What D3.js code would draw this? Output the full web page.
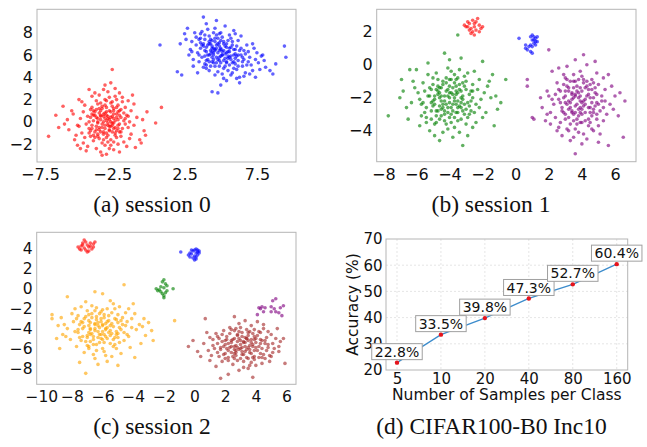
<!DOCTYPE html>
<html>
<head>
<meta charset="utf-8">
<script src="https://cdn.jsdelivr.net/npm/d3@7"></script>
<style>
  body { margin: 0; background: #fff; }
  svg { display: block; }
</style>
</head>
<body>
<div id="chart"></div>
<script>
// ---------- data (x, y pairs, flat) ----------

// (a) session 0
const redA = [
  -2.9,0.1, -3.4,0.8, -2.1,-0.6, -3.8,-1.2, -2.5,1.4, -1.6,0.3, -4.2,0.5, -3.0,-2.1, -2.2,2.0, -3.6,1.9,
  -1.2,-1.1, -4.9,-0.3, -2.7,-0.4, -3.3,0.2, -2.4,0.7, -3.1,-0.9, -1.9,1.1, -4.0,-0.8, -2.6,-1.6, -3.5,-0.1,
  -5.3,1.0, -0.8,0.4, -2.8,2.7, -3.9,2.3, -1.5,-2.2, -4.5,-1.9, -2.0,-0.2, -3.2,1.2, -2.3,-1.0, -3.7,0.9,
  -6.2,-0.5, -0.3,-0.8, -2.9,-2.9, -3.0,3.3, -1.8,1.8, -4.4,1.5, -2.6,0.0, -3.4,-1.5, -2.1,0.9, -3.8,0.1,
  -5.0,-1.2, -1.0,1.6, -2.4,-2.5, -4.1,2.9, -1.4,-0.5, -3.6,-2.4, -2.7,1.0, -3.1,0.5, -2.2,-1.4, -4.7,0.3,
  -6.9,-1.3, 0.5,-0.1, -2.5,4.7, -3.3,-2.7, -1.1,2.4, -4.8,2.0, -2.0,0.6, -3.5,1.6, -2.8,-1.2, -3.9,-0.6,
  -5.6,0.2, -0.6,-1.6, -2.3,3.0, -4.3,-2.6, -1.7,-1.8, -3.0,-0.3, -2.6,1.7, -3.7,-0.9, -2.4,0.3, -4.6,-1.0,
  -5.9,1.4, -0.1,0.9, -3.2,-1.9, -1.9,-0.9, -4.0,1.1, -2.7,-0.7, -3.4,2.4, -1.3,0.0, -4.9,-2.1, -3.0,1.5,
  -2.1,-2.0, -3.6,0.4, -2.9,0.9, -1.6,1.3, -4.3,-0.2, -2.5,-0.9, -3.2,-0.5, -2.0,2.6, -3.8,-1.7, -5.2,0.7,
  -1.0,-0.3, -2.7,2.2, -3.5,-1.1, -4.1,0.0, -1.9,-1.3, -2.4,1.2, -3.1,-1.6, -4.6,1.8, -0.9,-2.3, -2.8,-0.1,
  -3.3,0.6, -2.2,0.4, -3.9,1.3, -1.5,0.6, -4.4,-1.4, -2.6,-2.1, -3.0,2.0, -2.3,-0.5, -3.6,-0.4, -1.2,1.0,
  -5.5,-0.7, -0.4,0.2, -2.9,-1.4, -3.7,2.6, -2.0,-2.7, -4.2,-2.2, -1.7,0.1, -3.4,-0.7, -2.5,0.5, -3.1,2.9,
  0.9,1.3, -6.4,0.6, -2.6,3.5, -3.2,-3.0, -1.3,-1.5, -4.0,-1.3, -2.8,0.3, -3.5,0.0, -2.1,1.5, -4.8,-0.4,
  -0.5,-1.9, -1.8,2.2, -4.5,0.9, -2.4,-1.8, -3.3,1.7, -5.1,-1.6, -1.4,1.9, -2.7,-2.4, -3.8,0.6, -2.2,-0.8,
  -0.2,-1.2, -5.8,-0.2, -2.9,1.9, -3.1,0.0, -1.9,0.4, -4.1,-0.6, -2.5,-0.3, -3.6,1.1, -2.3,2.3, -4.7,-2.4,
  -2.8,0.5, -3.2,-0.2, -2.5,-0.1, -3.0,0.8, -2.3,0.1, -3.5,0.3, -2.7,-0.8, -3.3,1.0, -2.1,-0.3, -3.9,-0.3,
  -2.6,0.9, -3.1,-1.1, -2.0,1.0, -3.7,0.6, -2.4,-0.6, -3.4,-0.5, -2.9,1.3, -1.8,-0.6, -4.0,0.4, -2.2,0.7,
  -3.0,-0.6, -2.6,0.4, -3.6,-0.7, -2.8,-0.3, -1.7,0.8, -3.3,0.5, -2.4,1.0, -3.8,1.0, -2.9,-1.0, -2.1,0.2,
  -3.2,1.4, -2.7,0.2, -3.5,-1.3, -2.3,-1.2, -4.1,-1.0, -1.6,-0.2, -3.0,0.3, -2.5,1.8, -3.4,1.2, -2.0,-0.9,
  -2.8,-1.8, -3.9,0.7, -2.2,1.3, -3.1,0.7, -2.6,-0.4, -1.4,0.5, -3.7,-1.4, -2.4,-0.1, -3.3,-0.9, -2.9,0.6
];
const blueA = [
  4.8,6.2, 5.3,5.7, 4.1,6.9, 5.9,5.4, 3.6,7.1, 4.5,5.3, 6.4,6.0, 5.0,7.3, 3.9,5.9, 5.6,6.6,
  4.3,6.4, 6.8,5.1, 3.3,7.6, 5.2,4.8, 4.7,7.8, 6.1,6.8, 2.9,6.5, 5.5,5.9, 4.0,5.1, 7.2,4.6,
  4.9,6.8, 3.7,8.1, 6.0,5.2, 5.4,7.0, 4.2,4.6, 6.6,5.6, 3.4,6.2, 5.1,6.0, 7.6,5.3, 4.6,8.4,
  2.6,7.4, 5.8,4.4, 4.4,7.3, 6.9,6.3, 3.8,4.9, 5.2,6.4, 8.1,4.9, 4.0,8.8, 6.3,4.0, 3.1,5.6,
  5.7,7.5, 4.9,5.5, 2.2,7.0, 7.0,5.8, 4.5,6.0, 5.4,3.7, 3.6,6.6, 6.2,7.3, 8.6,4.3, 4.7,9.1,
  0.8,6.9, 9.4,6.8, 9.5,5.8, 4.4,2.7, 4.8,2.6, 5.0,3.3, 2.0,4.5, 2.3,4.2, 5.9,8.2, 7.4,4.0,
  4.1,5.6, 5.5,6.3, 3.9,7.4, 6.5,5.0, 4.6,4.2, 5.0,8.0, 7.8,5.9, 3.2,8.0, 6.0,6.1, 4.3,5.0,
  5.6,5.1, 4.8,7.0, 6.7,4.4, 3.5,5.4, 5.3,8.6, 7.3,6.6, 2.8,6.0, 6.1,4.7, 4.2,7.7, 5.8,6.9,
  8.0,5.5, 3.0,7.2, 5.1,4.3, 4.4,6.6, 6.4,7.7, 3.7,5.8, 5.4,5.4, 7.1,5.1, 4.6,7.5, 6.3,3.5,
  2.5,7.9, 5.9,6.0, 4.0,6.3, 6.8,6.9, 5.2,3.9, 3.3,6.9, 7.7,4.7, 4.9,5.0, 5.6,7.8, 3.8,7.0,
  6.2,5.5, 4.5,8.0, 7.5,6.2, 3.4,4.4, 5.0,6.5, 6.6,4.1, 4.2,6.0, 5.7,5.6, 8.4,4.6, 2.7,8.4,
  4.7,5.8, 6.0,6.5, 3.6,7.9, 5.3,5.0, 7.0,4.3, 4.1,8.3, 6.9,5.4, 5.5,4.6, 3.0,6.3, 6.4,6.6,
  4.8,4.5, 5.8,7.2, 4.3,7.0, 7.9,6.0, 3.9,5.2, 5.1,7.6, 6.5,5.8, 4.6,6.4, 5.9,4.8, 3.5,7.4,
  5.4,6.7, 6.1,3.9, 4.0,4.8, 7.2,7.0, 4.9,7.9, 3.1,5.0, 6.7,6.1, 5.7,4.2, 4.4,5.4, 8.8,5.2,
  5.2,7.2, 4.7,6.6, 6.2,5.0, 3.8,6.8, 5.6,5.8, 7.4,5.6, 4.5,5.6, 6.0,7.9, 5.0,5.3, 4.2,7.2,
  3.8,9.4,
  4.6,6.5, 5.1,6.0, 4.3,6.1, 5.4,6.2, 4.9,5.8, 4.0,6.7, 5.7,5.9, 4.7,6.9, 5.2,5.5, 4.4,5.8,
  5.0,6.6, 3.9,6.4, 5.6,6.3, 4.5,6.2, 6.0,5.7, 4.2,7.0, 5.3,6.8, 4.8,5.6, 3.7,6.9, 5.8,5.3,
  4.6,7.2, 5.5,5.7, 4.1,6.0, 6.2,6.0, 4.9,6.4, 3.5,6.0, 5.2,7.0, 4.4,6.8, 5.9,6.5, 4.7,5.3,
  5.1,6.3, 4.3,7.4, 6.5,5.4, 4.0,5.5, 5.4,5.3, 4.8,7.5, 3.6,7.5, 5.7,6.7, 4.5,6.6, 6.3,6.4,
  5.0,5.9, 4.2,5.4, 5.5,7.3, 3.9,7.8, 6.1,5.9, 4.6,5.0, 5.3,6.1, 4.9,7.1, 6.6,6.4, 4.4,6.3
];

// (b) session 1
const redB = [
  -3.1,2.4, -2.9,2.3, -2.8,2.5, -2.7,2.2, -2.5,2.3, -2.4,2.1, -2.6,2.7, -2.3,2.8, -2.2,2.4, -2.1,2.2,
  -2.7,1.9, -2.5,1.8, -2.6,2.0, -2.4,2.6, -3.0,2.3, -2.8,2.1, -2.2,2.0, -2.5,2.5, -2.0,2.3, -2.9,2.6
];
const blueB = [
  0.2,1.6, 0.9,1.7, 1.0,1.8, 1.1,1.7, 1.2,1.6, 1.3,1.7, 1.0,1.5, 1.2,1.4, 1.1,1.3, 0.9,1.2,
  0.8,1.1, 0.6,1.0, 0.7,0.9, 1.0,1.1, 1.2,1.2, 1.0,0.7, 0.9,0.8, 0.6,1.2, 1.1,1.5, 1.3,1.4
];
const greenB = [
  -4.0,-2.0, -4.6,-1.4, -3.3,-2.6, -5.1,-2.3, -3.7,-1.1, -2.8,-1.8, -4.3,-3.0, -5.5,-1.6, -3.1,-0.7, -4.8,-2.8,
  -2.4,-2.4, -4.1,-1.5, -3.5,-3.4, -5.8,-2.1, -3.9,-0.4, -2.6,-1.2, -4.5,-2.2, -6.2,-1.0, -3.2,-2.1, -4.9,-3.6,
  -1.9,-1.7, -4.2,-0.8, -3.6,-2.9, -5.3,-0.6, -2.9,-3.2, -4.7,-1.8, -6.6,-2.6, -3.4,-1.5, -4.4,-4.1, -2.2,-0.9,
  -5.0,-1.2, -3.8,-2.4, -1.5,-2.0, -4.0,0.3, -5.7,-3.1, -3.0,-1.0, -4.6,-3.3, -2.5,-2.9, -6.0,-0.3, -3.7,-3.8,
  -7.7,-3.1, -0.6,-0.9, -3.2,-4.9, -4.3,0.7, -6.9,-0.9, -1.3,-3.7, -5.2,-4.0, -2.0,0.2, -7.0,-2.0, -1.1,-2.7,
  -4.1,-2.6, -3.3,-1.6, -4.9,-1.9, -3.6,-0.9, -2.7,-2.2, -5.4,-2.6, -4.4,-1.2, -3.0,-2.7, -4.8,-0.5, -2.3,-1.5,
  -5.9,-1.7, -3.5,-2.2, -4.2,-3.6, -1.8,-2.9, -5.1,-3.3, -3.9,-1.7, -2.6,-3.8, -4.7,-0.9, -3.1,-3.0, -6.3,-2.3,
  -4.5,-2.7, -3.4,-0.3, -5.6,-1.1, -2.1,-2.1, -4.0,-3.2, -3.7,-2.0, -5.0,-2.5, -2.9,-0.5, -4.3,-1.9, -6.5,-3.3,
  -3.8,-4.4, -1.7,-1.3, -5.3,0.1, -4.6,-4.6, -2.4,-3.5, -3.3,0.4, -5.8,-3.7, -1.2,-1.9, -4.9,-2.1, -3.6,-1.3,
  -4.1,-0.2, -2.8,-2.5, -5.5,-2.9, -3.2,-1.9, -4.4,-2.4, -2.0,-3.2, -6.1,-1.4, -3.9,-3.0, -4.7,-1.6, -2.5,-0.4,
  -3.0,-3.6, -5.2,-1.9, -4.2,-1.1, -3.5,-2.6, -1.6,-1.0, -4.8,-3.1, -2.7,-1.6, -5.7,-2.4, -3.7,-0.6, -4.5,-1.4,
  -6.8,-1.6, -0.9,-2.3, -3.4,-4.1, -4.0,-1.7, -2.2,-2.6, -5.0,-0.8, -3.1,-1.3, -4.6,-2.0, -3.8,-2.8, -2.9,-4.3,
  -5.4,-3.5, -1.4,-0.6, -4.3,-2.8, -3.6,-1.8, -6.4,-0.3, -2.6,-2.0, -4.9,-4.3, -3.3,-2.3, -4.1,-3.9, -5.1,-1.5,
  -3.5,1.8,
  -3.8,-1.8, -4.3,-2.2, -3.5,-1.7, -4.6,-2.5, -3.9,-2.6, -4.2,-1.6, -3.3,-2.0, -4.8,-1.5, -3.6,-2.4, -4.5,-1.9,
  -4.1,-2.9, -3.4,-1.2, -5.0,-2.2, -3.7,-3.2, -4.4,-1.0, -2.9,-2.3, -4.7,-2.8, -3.2,-2.8, -4.0,-1.3, -5.3,-1.9,
  -3.5,-2.9, -4.2,-2.4, -3.0,-1.5, -4.9,-2.4, -3.8,-1.4, -4.5,-3.1, -3.3,-3.3, -4.0,-2.3, -5.1,-2.8, -3.6,-1.6,
  -2.7,-2.8, -4.3,-3.4, -3.9,-0.9, -4.7,-1.3, -3.1,-2.4, -5.6,-2.3, -4.1,-1.9, -3.4,-2.5, -4.8,-3.5, -2.6,-1.6,
  -3.7,-2.2, -4.4,-2.6, -5.2,-1.4, -3.2,-1.1, -4.6,-1.7, -3.9,-3.5, -2.8,-3.0, -4.0,-0.9, -5.4,-3.2, -3.5,-0.8
];
const purpleB = [
  3.8,-2.0, 3.2,-1.4, 4.4,-2.6, 3.5,-3.0, 4.1,-1.1, 2.7,-2.3, 4.8,-1.7, 3.0,-0.8, 4.2,-3.4, 3.6,-2.5,
  2.4,-1.8, 5.1,-2.8, 3.9,-0.4, 3.3,-3.6, 4.6,-0.9, 2.1,-2.9, 5.4,-1.5, 3.7,-1.6, 4.0,-2.3, 2.9,-1.2,
  4.9,-3.3, 3.4,-2.1, 2.6,-3.8, 4.5,-2.0, 3.1,-0.1, 5.7,-2.4, 3.8,-4.1, 1.9,-1.6, 4.3,0.0, 3.5,-1.0,
  2.2,-0.4, 5.3,-0.8, 4.7,-4.0, 2.8,-4.3, 3.9,-2.9, 6.0,-1.9, 1.6,-2.6, 4.1,0.6, 3.0,-3.3, 5.0,-1.2,
  0.7,-0.9, 0.7,-1.3, 1.1,-3.3, 1.0,-3.2, 1.8,-3.4, 2.0,0.9, 6.6,-2.2, 6.5,-4.4, 3.6,-5.4, 5.6,-4.9,
  3.7,-1.3, 4.4,-1.8, 3.2,-2.7, 4.0,-3.0, 2.9,-2.0, 4.8,-2.5, 3.4,-1.7, 4.6,-3.1, 3.1,-2.4, 5.2,-1.9,
  2.5,-1.1, 4.2,-1.4, 3.6,-3.9, 5.5,-3.0, 2.3,-2.4, 4.0,-0.7, 3.3,-4.6, 4.9,-0.5, 2.7,-3.5, 5.9,-2.7,
  3.8,-2.7, 3.0,-1.6, 4.5,-2.9, 2.0,-1.9, 5.0,-3.7, 3.5,-0.6, 4.3,-4.5, 2.6,-0.2, 5.8,-1.3, 3.9,-1.9,
  1.5,-2.0, 4.7,-1.1, 3.2,-4.0, 4.1,-2.5, 2.8,-2.8, 5.4,-2.2, 3.6,0.3, 4.4,-3.7, 3.0,-3.0, 6.2,-3.1,
  2.4,-3.2, 4.8,0.2, 3.7,-3.3, 4.2,-2.1, 3.3,-1.0, 5.1,-4.2, 2.2,-2.1, 4.0,-4.8, 3.4,-2.9, 5.6,-0.6,
  3.9,-3.5, 2.9,-0.6, 4.6,-1.5, 3.1,-3.9, 5.3,-2.6, 3.6,-1.9, 1.9,-3.0, 4.3,-1.0, 2.5,-4.0, 4.9,-2.3,
  3.8,-0.9, 5.0,-4.7, 3.2,-2.2, 4.5,-3.5, 2.6,-1.5, 4.1,-4.2, 6.3,-1.7, 3.5,-4.4, 2.1,-3.6, 4.7,-2.7,
  3.6,-1.8, 4.1,-2.2, 3.3,-2.3, 4.4,-1.5, 3.9,-2.6, 3.5,-1.4, 4.6,-2.3, 3.0,-1.9, 4.2,-2.9, 3.7,-2.4,
  4.9,-1.8, 3.4,-2.8, 4.0,-1.6, 2.8,-2.6, 4.5,-1.2, 3.8,-3.1, 3.1,-1.3, 4.7,-2.9, 3.5,-2.0, 4.3,-1.9,
  3.2,-3.2, 4.0,-2.7, 5.0,-2.4, 3.6,-1.0, 4.4,-3.3, 2.7,-1.6, 3.9,-1.4, 4.8,-1.4, 3.3,-2.6, 4.2,-2.4,
  3.7,-3.6, 4.5,-2.6, 2.9,-2.9, 4.1,-0.9, 3.4,-1.8, 5.2,-2.2, 3.8,-1.7, 4.6,-3.9, 3.0,-2.3, 4.3,-1.3,
  3.6,-2.9, 4.9,-3.0, 3.2,-1.6, 4.0,-3.5, 3.5,-3.4, 4.7,-2.0, 2.6,-2.1, 3.9,-2.2, 5.3,-3.4, 3.1,-0.9
];

// (c) session 2
const redC = [
  -7.6,4.2, -7.5,4.0, -7.4,4.3, -7.3,4.6, -7.2,4.9, -7.2,4.1, -7.1,3.9, -7.0,4.4, -7.0,3.7, -6.9,4.2,
  -6.8,4.6, -6.7,4.0, -6.6,4.5, -6.5,4.7, -6.9,3.8, -7.3,4.4, -6.8,4.3, -7.1,4.7, -6.6,4.2, -7.4,3.9
];
const blueC = [
  -0.9,3.7, -0.4,3.4, -0.3,3.2, -0.2,3.5, -0.1,3.8, 0.0,3.9, 0.1,4.0, 0.2,3.9, 0.3,3.8, 0.1,3.6,
  0.0,3.3, -0.1,3.1, 0.0,2.9, 0.1,3.0, 0.2,3.4, -0.2,3.9, 0.3,3.6, -0.3,3.6, 0.1,3.2, 0.2,3.7
];
const greenC = [
  -2.0,0.9, -2.1,0.7, -1.9,0.5, -2.2,0.2, -2.0,0.1, -2.3,-0.1, -2.4,-0.2, -1.8,-0.2, -1.9,-0.4, -2.1,-0.5,
  -2.0,-0.7, -2.0,-0.9, -1.4,0.0, -2.5,0.0, -1.8,0.3, -2.2,-0.3
];
const purpleC = [
  4.1,-2.6, 4.3,-2.0, 4.4,-1.8, 4.6,-1.9, 4.5,-2.3, 4.2,-1.9, 5.0,-1.8, 5.1,-1.2, 5.2,-2.0, 5.3,-1.0,
  5.3,-2.3, 5.5,-2.4, 5.6,-1.9, 5.8,-1.7, 5.7,-2.7, 5.0,-2.3
];
const orangeC = [
  -6.2,-3.9, -5.6,-3.2, -6.8,-4.6, -5.1,-4.3, -7.2,-3.0, -6.0,-5.1, -5.4,-2.4, -6.9,-3.7, -4.7,-3.6, -6.4,-2.8,
  -7.6,-4.4, -5.8,-4.0, -4.3,-4.8, -6.6,-5.6, -5.2,-2.0, -7.9,-3.3, -6.1,-3.0, -4.9,-5.4, -7.0,-2.2, -5.5,-4.7,
  -6.7,-1.7, -8.3,-4.0, -4.1,-3.0, -5.9,-6.3, -7.4,-5.2, -6.3,-4.3, -4.5,-2.4, -5.0,-3.4, -8.0,-2.5, -6.5,-3.5,
  -9.3,-2.6, -9.3,-3.0, -2.8,-4.2, -3.3,-3.0, -6.0,-0.5, -4.6,0.4, -7.1,-8.5, -5.0,-7.7, -8.3,-0.8, -9.0,-5.0,
  -2.7,-5.2, -1.3,-3.2, -5.7,-7.3, -3.9,-6.9, -8.8,-6.0, -7.5,-7.4, -6.5,-0.3, -3.5,-5.5, -8.6,-4.6, -4.0,-1.5,
  -6.1,-4.6, -5.3,-3.8, -6.9,-3.2, -5.7,-5.0, -7.3,-4.0, -4.8,-4.1, -6.4,-1.9, -5.9,-2.6, -7.7,-5.8, -5.1,-6.0,
  -6.6,-6.6, -4.4,-3.3, -7.1,-1.3, -5.5,-1.2, -8.5,-3.6, -3.8,-4.1, -6.8,-5.3, -5.3,-5.8, -7.8,-2.0, -4.2,-5.9,
  -6.3,-3.4, -5.6,-4.4, -7.0,-4.9, -4.7,-2.9, -6.0,-6.0, -8.1,-5.1, -5.0,-2.6, -6.5,-7.0, -3.6,-3.6, -7.5,-3.6,
  -5.8,-3.5, -6.7,-2.5, -4.4,-4.6, -7.2,-6.4, -5.2,-4.9, -8.7,-2.9, -6.2,-5.4, -4.9,-1.8, -3.2,-4.7, -6.8,-4.1,
  -5.4,-6.8, -7.6,-2.7, -6.0,-3.7, -4.1,-3.9, -7.0,-5.7, -5.7,-2.0, -8.4,-4.8, -3.9,-2.5, -6.4,-6.2, -5.1,-3.1,
  -6.6,-4.8, -5.9,-4.6, -7.3,-3.4, -4.6,-5.2, -6.1,-2.3, -8.9,-3.7, -5.5,-5.5, -3.4,-3.8, -7.4,-1.8, -6.3,-7.6,
  -4.8,-6.5, -6.9,-6.0, -5.3,-1.5, -7.8,-4.3, -4.3,-2.0, -6.5,-4.0, -5.0,-4.5, -7.1,-2.8, -5.8,-6.7, -3.0,-3.4,
  -6.0,-3.6, -6.5,-4.2, -5.7,-3.9, -6.8,-3.4, -6.2,-4.6, -5.4,-3.5, -6.9,-4.4, -5.9,-2.9, -6.4,-3.1, -5.5,-4.2,
  -7.2,-3.8, -6.1,-5.0, -5.2,-3.0, -6.7,-2.9, -5.8,-4.8, -7.0,-4.7, -6.3,-3.7, -4.9,-3.9, -6.6,-5.1, -5.6,-2.7,
  -7.4,-3.3, -6.0,-4.3, -5.1,-4.6, -6.9,-2.6, -5.3,-5.1, -6.4,-5.6, -7.6,-4.1, -5.7,-3.3, -6.2,-2.5, -4.6,-4.4,
  -6.8,-4.0, -5.5,-3.7, -7.1,-5.3, -6.1,-3.3, -5.0,-4.9, -6.5,-3.6, -7.7,-3.0, -5.9,-5.4, -6.3,-4.9, -4.8,-3.2,
  -6.7,-4.5, -5.4,-4.5, -7.3,-4.8, -6.0,-2.1, -5.2,-5.6, -6.9,-5.8, -5.8,-4.1, -4.5,-3.7, -6.5,-2.2, -7.5,-4.9
];
const brownC = [
  3.0,-5.6, 2.5,-5.1, 3.6,-6.1, 2.1,-6.0, 3.3,-4.9, 4.0,-5.4, 2.7,-6.7, 3.8,-4.5, 1.8,-5.3, 3.1,-6.3,
  4.4,-6.0, 2.3,-4.5, 3.5,-5.2, 1.5,-6.4, 4.7,-4.9, 2.8,-7.2, 3.9,-6.8, 1.9,-4.2, 4.2,-5.8, 2.6,-5.8,
  3.4,-4.1, 5.1,-5.5, 1.2,-5.7, 3.7,-7.4, 2.0,-7.0, 4.5,-4.0, 2.9,-3.5, 4.9,-6.7, 1.0,-4.9, 3.2,-7.9,
  0.7,-3.0, -0.4,-5.8, -0.1,-5.2, 0.4,-6.8, 5.9,-7.5, 5.8,-5.0, 2.6,-2.8, 1.7,-9.0, 3.8,-8.9, 2.2,-8.6,
  5.4,-4.0, 0.9,-6.2, 4.1,-3.3, 5.5,-6.3, 1.4,-7.8, 3.1,-4.4, 2.4,-6.4, 3.6,-5.7, 2.9,-5.0, 4.3,-6.5,
  1.6,-5.0, 3.9,-5.1, 2.2,-5.5, 4.8,-5.6, 2.7,-4.0, 3.4,-6.9, 1.3,-6.0, 4.6,-7.0, 3.0,-3.9, 2.0,-6.5,
  5.2,-6.0, 3.3,-5.4, 2.6,-6.1, 4.1,-4.7, 1.8,-7.3, 3.7,-3.7, 2.4,-5.2, 5.0,-4.6, 0.6,-5.5, 3.5,-8.0,
  4.4,-5.2, 2.1,-4.8, 3.2,-6.6, 1.1,-6.7, 4.0,-7.7, 2.8,-5.3, 3.9,-6.2, 1.9,-5.8, 5.6,-5.3, 3.0,-7.0,
  2.3,-3.9, 4.6,-5.5, 3.6,-4.3, 1.4,-4.5, 3.1,-5.9, 4.9,-7.3, 2.5,-7.6, 3.8,-5.8, 0.2,-6.3, 4.3,-4.4,
  2.7,-6.2, 3.4,-5.0, 1.6,-6.8, 4.7,-6.2, 2.0,-5.2, 3.7,-6.5, 2.9,-8.2, 5.3,-5.0, 1.2,-5.1, 4.2,-6.9,
  3.5,-4.7, 2.2,-7.2, 4.5,-3.6, 0.8,-4.4, 3.0,-6.0, 2.6,-4.2, 5.0,-6.8, 3.9,-7.1, 1.7,-6.1, 4.0,-5.9,
  3.3,-3.2, 2.4,-5.8, 4.8,-4.3, 1.5,-5.5, 3.6,-7.7, 2.8,-4.7, 4.4,-7.5, 1.0,-7.2, 3.2,-5.3, 5.5,-5.8,
  3.2,-5.4, 2.7,-5.7, 3.5,-5.9, 2.4,-5.4, 3.8,-5.6, 2.9,-6.1, 3.4,-5.0, 2.2,-6.2, 4.1,-6.2, 2.6,-5.0,
  3.1,-6.6, 3.7,-5.1, 2.0,-5.6, 4.3,-5.5, 2.8,-4.6, 3.3,-6.3, 1.7,-5.9, 3.9,-4.8, 2.5,-6.8, 4.5,-6.6,
  3.0,-5.2, 3.6,-6.4, 2.3,-5.9, 4.0,-5.0, 2.9,-4.3, 3.5,-7.0, 1.9,-6.6, 4.6,-5.2, 2.7,-6.4, 3.3,-5.8,
  4.2,-4.3, 2.1,-5.1, 3.8,-6.9, 2.6,-7.0, 4.8,-5.9, 3.1,-4.8, 1.5,-4.8, 3.4,-6.1, 2.4,-4.1, 4.4,-6.9,
  3.7,-5.4, 2.8,-5.9, 5.1,-6.4, 2.2,-6.9, 3.9,-4.1, 3.2,-7.3, 1.8,-4.6, 4.3,-5.1, 2.6,-6.5, 3.5,-4.4
];

// (d) CIFAR100-B0 Inc10
const samples = ["5", "10", "20", "40", "80", "160"];
const accuracy = [22.8, 33.5, 39.8, 47.3, 52.7, 60.4];

// ---------- drawing ----------
const W = 647, H = 447;
const tickFont = "DejaVu Sans";
const ink = "#111";

const svg = d3.select("#chart").append("svg")
  .attr("width", W).attr("height", H)
  .attr("viewBox", `0 0 ${W} ${H}`);

const pairs = flat => d3.range(0, flat.length, 2).map(i => [flat[i], flat[i + 1]]);

function styleAxis(ax, size) {
  ax.select(".domain").remove();
  ax.attr("font-family", tickFont).attr("font-size", size);
  ax.selectAll("text").attr("fill", ink);
}

function frame(g, p) {
  g.append("rect")
    .attr("x", p.left).attr("y", p.top)
    .attr("width", p.right - p.left).attr("height", p.bottom - p.top)
    .attr("fill", "none").attr("stroke", "#b5b5b5").attr("stroke-width", 1);
}

function scatterPanel(p) {
  const x = d3.scaleLinear().domain(p.xDomain).range([p.left, p.right]);
  const y = d3.scaleLinear().domain(p.yDomain).range([p.bottom, p.top]);
  const g = svg.append("g");

  p.clusters.forEach(c => {
    g.append("g").selectAll("circle")
      .data(pairs(c.pts))
      .join("circle")
      .attr("cx", d => x(d[0]))
      .attr("cy", d => y(d[1]))
      .attr("r", 1.8)
      .attr("fill", c.color)
      .attr("fill-opacity", 0.62);
  });

  frame(g, p);

  const fmt = d3.format(p.fmt);
  const ax = g.append("g").attr("transform", `translate(0,${p.bottom})`)
    .call(d3.axisBottom(x).tickValues(p.xTicks).tickFormat(fmt).tickSize(0).tickPadding(6.5));
  styleAxis(ax, p.fontSize);
  const ay = g.append("g").attr("transform", `translate(${p.left},0)`)
    .call(d3.axisLeft(y).tickValues(p.yTicks).tickFormat(d3.format("d")).tickSize(0).tickPadding(4));
  styleAxis(ay, p.fontSize);
}

scatterPanel({
  left: 37, right: 296, top: 9.3, bottom: 162,
  xDomain: [-7.7, 10.2], yDomain: [-3.6, 10.1],
  xTicks: [-7.5, -2.5, 2.5, 7.5], yTicks: [-2, 0, 2, 4, 6, 8], fmt: ".1f", fontSize: 16,
  clusters: [{pts: redA, color: "red"}, {pts: blueA, color: "blue"}]
});

scatterPanel({
  left: 376.7, right: 636, top: 9.3, bottom: 161.7,
  xDomain: [-8.4, 7.27], yDomain: [-5.88, 3.36],
  xTicks: [-8, -6, -4, -2, 0, 2, 4, 6], yTicks: [-4, -2, 0, 2], fmt: "d", fontSize: 16,
  clusters: [{pts: redB, color: "red"}, {pts: blueB, color: "blue"},
             {pts: greenB, color: "green"}, {pts: purpleB, color: "purple"}]
});

scatterPanel({
  left: 36.7, right: 296, top: 232.3, bottom: 384.3,
  xDomain: [-10.3, 6.62], yDomain: [-9.6, 5.68],
  xTicks: [-10, -8, -6, -4, -2, 0, 2, 4, 6], yTicks: [-8, -6, -4, -2, 0, 2, 4], fmt: "d", fontSize: 15.5,
  clusters: [{pts: redC, color: "red"}, {pts: blueC, color: "blue"},
             {pts: greenC, color: "green"}, {pts: purpleC, color: "purple"},
             {pts: orangeC, color: "orange"}, {pts: brownC, color: "brown"}]
});

// line chart (d)
(function () {
  const p = {left: 386, right: 627.7, top: 239, bottom: 370};
  const x = d3.scalePoint().domain(samples).range([p.left, p.right]).padding(0.25);
  const y = d3.scaleLinear().domain([20, 70]).range([p.bottom, p.top]);
  const yTicks = [20, 30, 40, 50, 60, 70];
  const g = svg.append("g");

  // grid
  g.append("g").selectAll("line").data(samples).join("line")
    .attr("x1", d => x(d)).attr("x2", d => x(d))
    .attr("y1", p.top).attr("y2", p.bottom)
    .attr("stroke", "#dedede").attr("stroke-width", 0.8).attr("stroke-dasharray", "2,2");
  g.append("g").selectAll("line").data(yTicks.slice(1, -1)).join("line")
    .attr("x1", p.left).attr("x2", p.right)
    .attr("y1", d => y(d)).attr("y2", d => y(d))
    .attr("stroke", "#dedede").attr("stroke-width", 0.8).attr("stroke-dasharray", "2,2");

  frame(g, p);

  const line = d3.line().x((d, i) => x(samples[i])).y(d => y(d));
  g.append("path").datum(accuracy)
    .attr("d", line).attr("fill", "none")
    .attr("stroke", "#3c8ccc").attr("stroke-width", 1.3);

  g.append("g").selectAll("circle").data(accuracy).join("circle")
    .attr("cx", (d, i) => x(samples[i])).attr("cy", d => y(d))
    .attr("r", 2.2).attr("fill", "#e5141c");

  const ax = g.append("g").attr("transform", `translate(0,${p.bottom})`)
    .call(d3.axisBottom(x).tickSize(0).tickPadding(3.5));
  styleAxis(ax, 15);
  const ay = g.append("g").attr("transform", `translate(${p.left},0)`)
    .call(d3.axisLeft(y).tickValues(yTicks).tickSize(0).tickPadding(3.5));
  styleAxis(ay, 15);

  // value boxes
  const notes = g.append("g").selectAll("g").data(accuracy).join("g")
    .attr("transform", (d, i) => `translate(${x(samples[i])},${y(d) - 11})`);
  notes.append("text")
    .attr("text-anchor", "middle").attr("dy", "0.36em")
    .attr("font-family", tickFont).attr("font-size", 14).attr("fill", ink)
    .text(d => d.toFixed(1) + "%");
  notes.each(function () {
    const n = d3.select(this);
    const b = n.select("text").node().getBBox();
    n.insert("rect", "text")
      .attr("x", b.x - 3).attr("y", -8)
      .attr("width", b.width + 6).attr("height", 16)
      .attr("fill", "#fff").attr("stroke", "#a0a0a0").attr("stroke-width", 1);
  });

  g.append("text")
    .attr("x", (p.left + p.right) / 2).attr("y", 399.5)
    .attr("text-anchor", "middle")
    .attr("font-family", tickFont).attr("font-size", 15.5).attr("fill", ink)
    .text("Number of Samples per Class");
  g.append("text")
    .attr("transform", `translate(358,${(p.top + p.bottom) / 2}) rotate(-90)`)
    .attr("text-anchor", "middle")
    .attr("font-family", tickFont).attr("font-size", 15.5).attr("fill", ink)
    .text("Accuracy (%)");
})();

// captions
const captions = [
  {t: "(a) session 0", x: 152, y: 212},
  {t: "(b) session 1", x: 491, y: 212},
  {t: "(c) session 2", x: 152, y: 434},
  {t: "(d) CIFAR100-B0 Inc10", x: 491.5, y: 434}
];
svg.append("g").selectAll("text").data(captions).join("text")
  .attr("x", d => d.x).attr("y", d => d.y)
  .attr("text-anchor", "middle")
  .attr("font-family", "Liberation Serif, Times New Roman, serif")
  .attr("font-size", 23.5).attr("fill", ink)
  .text(d => d.t);
</script>
</body>
</html>
